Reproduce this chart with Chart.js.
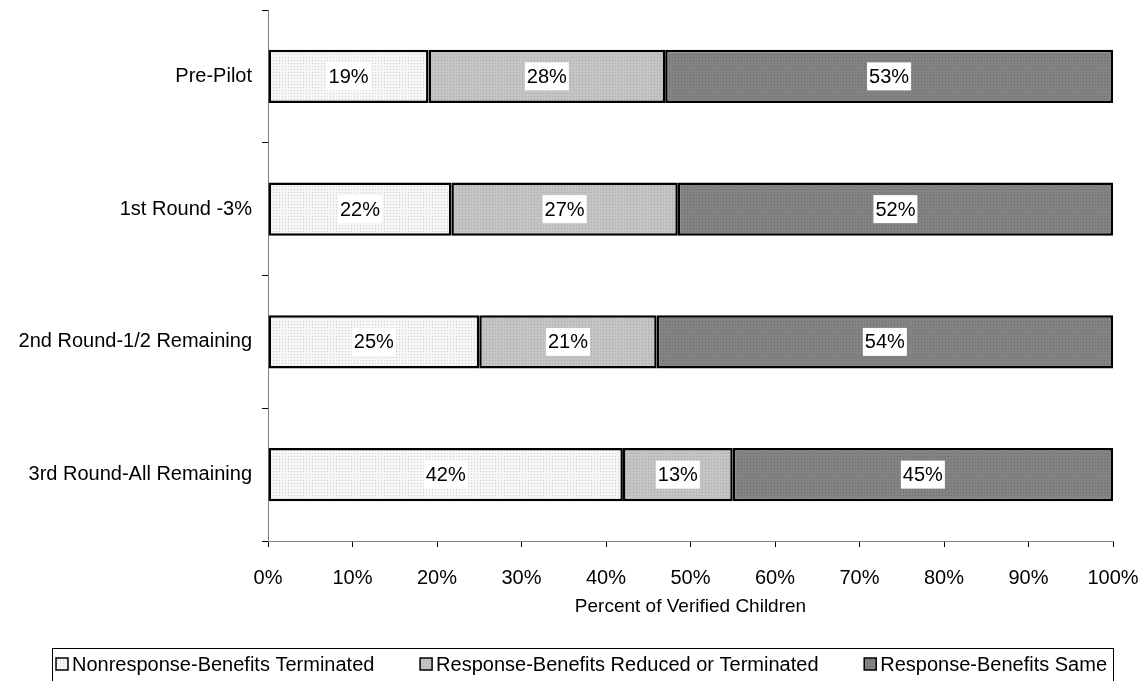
<!DOCTYPE html>
<html>
<head>
<meta charset="utf-8">
<script src="https://cdn.jsdelivr.net/npm/chart.js@4"></script>
<style>
html, body { margin: 0; padding: 0; background: #fff; }
#wrap { width: 1144px; height: 681px; }
</style>
</head>
<body>
<div id="wrap"><canvas id="chart" width="1144" height="681"></canvas></div>
<script>

const categories = ["Pre-Pilot", "1st Round -3%", "2nd Round-1/2 Remaining", "3rd Round-All Remaining"]
const seriesNames = ["Nonresponse-Benefits Terminated", "Response-Benefits Reduced or Terminated", "Response-Benefits Same"]
const nonresponse = [19, 21.7, 25, 42]
const reduced = [28, 26.8, 21, 13]
const same = [53, 51.5, 54, 45]
const xTicks = [0, 10, 20, 30, 40, 50, 60, 70, 80, 90, 100]

const FONT = "'Liberation Sans', Arial, sans-serif"

// small dotted fill like the old office hatch
function dots(base, dot){
const c = document.createElement("canvas")
c.width = 3
c.height = 3
const g = c.getContext("2d")
g.fillStyle = base
g.fillRect(0, 0, 3, 3)
g.fillStyle = dot
g.fillRect(0, 0, 1, 1)
return g.createPattern(c, "repeat")
}

const fills = [
dots("#f6f6f6", "#cfcfcf"),
dots("#c4c4c4", "#a8a8a8"),
dots("#838383", "#6e6e6e")
]

const valueLabels = {
id: "valueLabels",
afterDatasetsDraw(chart){
const ctx = chart.ctx
ctx.save()
ctx.font = "20px " + FONT
ctx.textAlign = "center"
ctx.textBaseline = "middle"
chart.data.datasets.forEach((ds, i) => {
chart.getDatasetMeta(i).data.forEach((bar, j) => {
const txt = Math.round(ds.data[j]) + "%"
const w = ctx.measureText(txt).width + 4
const cx = (bar.x + bar.base) / 2
ctx.fillStyle = "#fff"
ctx.fillRect(cx - w / 2, bar.y - 14, w, 28)
ctx.fillStyle = "#000"
ctx.fillText(txt, cx, bar.y + 1)
})
})
ctx.restore()
}
}

// boxed legend under the axis title, like the excel one
const boxedLegend = {
id: "boxedLegend",
afterDraw(chart){
const ctx = chart.ctx
const sets = chart.data.datasets
const frameL = 52, frameR = 1113, frameT = 648
const cy = frameT + 16
ctx.save()
ctx.font = "20px " + FONT
ctx.textBaseline = "middle"
const widths = sets.map(ds => ctx.measureText(ds.label).width)
const itemW = widths.map(w => 13 + 3 + w)
const used = itemW.reduce((a, b) => a + b, 0)
const gap = (frameR - frameL - 10 - used) / (sets.length - 1)
let x = frameL + 4
sets.forEach((ds, i) => {
ctx.fillStyle = ds.backgroundColor
ctx.fillRect(x, cy - 6, 12, 12)
ctx.strokeStyle = "#000"
ctx.lineWidth = 1.5
ctx.strokeRect(x, cy - 6, 12, 12)
ctx.fillStyle = "#000"
ctx.fillText(ds.label, x + 16, cy + 1)
x += itemW[i] + gap
})
ctx.strokeStyle = "#000"
ctx.lineWidth = 1
ctx.strokeRect(frameL + 0.5, frameT + 0.5, frameR - frameL, 40)
ctx.restore()
}
}

const ctx = document.getElementById("chart").getContext("2d")

new Chart(ctx, {
type: "bar",
data: {
labels: categories,
datasets: [nonresponse, reduced, same].map((d, i) => ({
label: seriesNames[i],
data: d,
backgroundColor: fills[i],
borderColor: "#000",
borderWidth: 2.5,
borderSkipped: false,
categoryPercentage: 1,
barPercentage: 0.4
}))
},
options: {
indexAxis: "y",
responsive: false,
animation: false,
layout: { padding: { top: 10, right: 31, left: 0, bottom: 63 } },
plugins: {
tooltip: { enabled: false },
legend: { display: false }
},
scales: {
x: {
stacked: true,
min: 0,
max: 100,
afterBuildTicks(scale){ scale.ticks = xTicks.map(v => ({ value: v })) },
ticks: {
color: "#000",
font: { family: FONT, size: 20 },
padding: 19,
callback: v => v + "%"
},
grid: { drawOnChartArea: false, tickLength: 6, color: "#000" },
border: { color: "#808080", width: 1 },
title: {
display: true,
text: "Percent of Verified Children",
color: "#000",
font: { family: FONT, size: 19 },
padding: { top: 0, bottom: 0 }
},
afterFit(scale){
scale.height = 77
scale.paddingLeft = 0
scale.paddingRight = 0
}
},
y: {
stacked: true,
offset: true,
ticks: {
color: "#000",
font: { family: FONT, size: 20 },
padding: 10
},
grid: { drawOnChartArea: false, offset: true, tickLength: 6, color: "#000" },
border: { color: "#808080", width: 1 },
afterFit(scale){
scale.width = 268
scale.paddingTop = 0
scale.paddingBottom = 0
}
}
}
},
plugins: [valueLabels, boxedLegend]
})

</script>
</body>
</html>
